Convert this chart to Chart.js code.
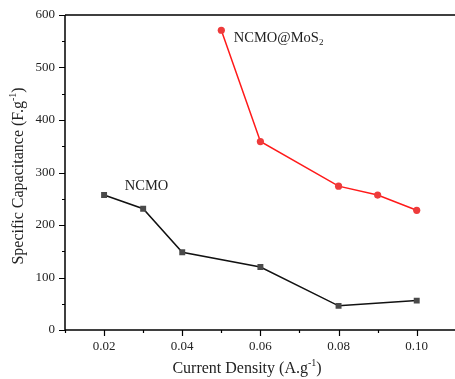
<!DOCTYPE html>
<html lang="en">
<head>
  <meta charset="UTF-8">
  <title>capacitance</title>
  <script src="https://cdn.jsdelivr.net/npm/chart.js"></script>
  <style>
    body{margin:0;background:#fff;overflow:hidden;}
    #myChart{display:block;}
  </style>
</head>
<body>
  <canvas id="myChart" width="460" height="379"></canvas>
  <script>
    // data
    const ncmoX = [0.02, 0.03, 0.04, 0.06, 0.08, 0.10];
    const ncmoY = [257, 231, 148, 120, 46, 56];
    const mosX = [0.05, 0.06, 0.08, 0.09, 0.10];
    const mosY = [571, 359, 274, 257, 228];
    const xTicks = [0.02, 0.04, 0.06, 0.08, 0.10];
    const yTicks = [0, 100, 200, 300, 400, 500, 600];

    const SERIF = '"Liberation Serif", "Times New Roman", serif';

    // draws text with a super/sub script piece: parts = [[text, 'n'|'sup'|'sub'], ...]
    function richWidth(ctx, parts, size){
      let w = 0;
      parts.forEach(p => {
        ctx.font = (p[1] === 'n' ? size : Math.round(size*0.65)) + 'px ' + SERIF;
        w += ctx.measureText(p[0]).width;
      });
      return w;
    }
    function richText(ctx, parts, x, y, size){
      let cx = x;
      ctx.textBaseline = 'middle';
      ctx.textAlign = 'left';
      parts.forEach(p => {
        let dy = 0, s = size;
        if (p[1] === 'sup'){ s = Math.round(size*0.65); dy = -size*0.38; }
        if (p[1] === 'sub'){ s = Math.round(size*0.65); dy = size*0.3; }
        ctx.font = s + 'px ' + SERIF;
        ctx.fillText(p[0], cx, y + dy);
        cx += ctx.measureText(p[0]).width;
      });
    }

    //frame, minor/major ticks, titles and labels
    const decor = {
      id:'decor',
      afterDraw(chart){
        const { ctx, chartArea:{ top, right, bottom, left }, scales:{x, y} } = chart;
        ctx.save();
        ctx.strokeStyle = '#000';
        ctx.lineWidth = 1.5;
        ctx.beginPath();
        ctx.moveTo(left, top); ctx.lineTo(right, top);
        ctx.moveTo(left, top); ctx.lineTo(left, bottom);
        ctx.moveTo(left, bottom); ctx.lineTo(right, bottom);
        ctx.stroke();
        ctx.lineWidth = 1.2;
        ctx.beginPath();
        for (let v = 0; v <= 600; v += 50){
          const py = Math.round(y.getPixelForValue(v)) + 0.5;
          const len = v % 100 === 0 ? 6 : 3;
          ctx.moveTo(left, py); ctx.lineTo(left - len, py);
        }
        for (let k = 1; k <= 11; k++){
          const px = Math.round(x.getPixelForValue(k/100)) + 0.5;
          const len = k % 2 === 0 ? 6 : 3;
          ctx.moveTo(px, bottom); ctx.lineTo(px, bottom + len);
        }
        ctx.stroke();

        ctx.fillStyle = '#222';
        // x title
        const xt = [['Current Density (A.g','n'],['-1','sup'],[')','n']];
        const xw = richWidth(ctx, xt, 16);
        richText(ctx, xt, 247 - xw/2, 369, 16);
        // y title
        const yt = [['Specific Capacitance (F.g','n'],['-1','sup'],[')','n']];
        const yw = richWidth(ctx, yt, 16);
        ctx.translate(19, 176);
        ctx.rotate(-Math.PI/2);
        richText(ctx, yt, -yw/2, 0, 16);
        ctx.restore();

        ctx.save();
        ctx.fillStyle = '#222';
        richText(ctx, [['NCMO','n']], x.getPixelForValue(0.0253), y.getPixelForValue(274), 14.5);
        richText(ctx, [['NCMO@MoS','n'],['2','sub']], x.getPixelForValue(0.0532), y.getPixelForValue(556), 14.5);
        ctx.restore();
      }
    };

    const data = {
      datasets: [{
        label:'NCMO',
        data: ncmoX.map((v,i) => ({x:v, y:ncmoY[i]})),
        borderColor:'#111',
        backgroundColor:'#4a4a4a',
        borderWidth:1.5,
        pointStyle:'rect',
        pointRadius:4.2,
        pointBorderWidth:0
      },{
        label:'NCMO@MoS2',
        data: mosX.map((v,i) => ({x:v, y:mosY[i]})),
        borderColor:'#ff1a1a',
        backgroundColor:'#ee3b3b',
        borderWidth:1.5,
        pointStyle:'circle',
        pointRadius:3.6,
        pointBorderWidth:0
      }]
    };

    const config = {
      type:'line',
      data,
      options:{
        responsive:false,
        animation:false,
        layout:{ padding:{ top:15, right:3, left:0, bottom:0 } },
        plugins:{ legend:{display:false}, tooltip:{enabled:false} },
        scales:{
          x:{
            type:'linear',
            min:0.01, max:0.11,
            grid:{ display:false, drawTicks:true, tickLength:6 },
            border:{ display:false },
            afterBuildTicks: s => { s.ticks = xTicks.map(v => ({value:v})); },
            afterFit: s => { s.height = 49; },
            ticks:{
              padding:3,
              color:'#222',
              font:{ family:SERIF, size:13 },
              maxRotation:0,
              callback: v => v.toFixed(2)
            }
          },
          y:{
            min:0, max:600,
            grid:{ display:false, drawTicks:true, tickLength:6 },
            border:{ display:false },
            afterBuildTicks: s => { s.ticks = yTicks.map(v => ({value:v})); },
            afterFit: s => { s.width = 65; },
            ticks:{
              padding:4,
              color:'#222',
              font:{ family:SERIF, size:13 }
            }
          }
        }
      },
      plugins:[decor]
    };

    const myChart = new Chart(document.getElementById('myChart'), config);
  </script>
</body>
</html>
